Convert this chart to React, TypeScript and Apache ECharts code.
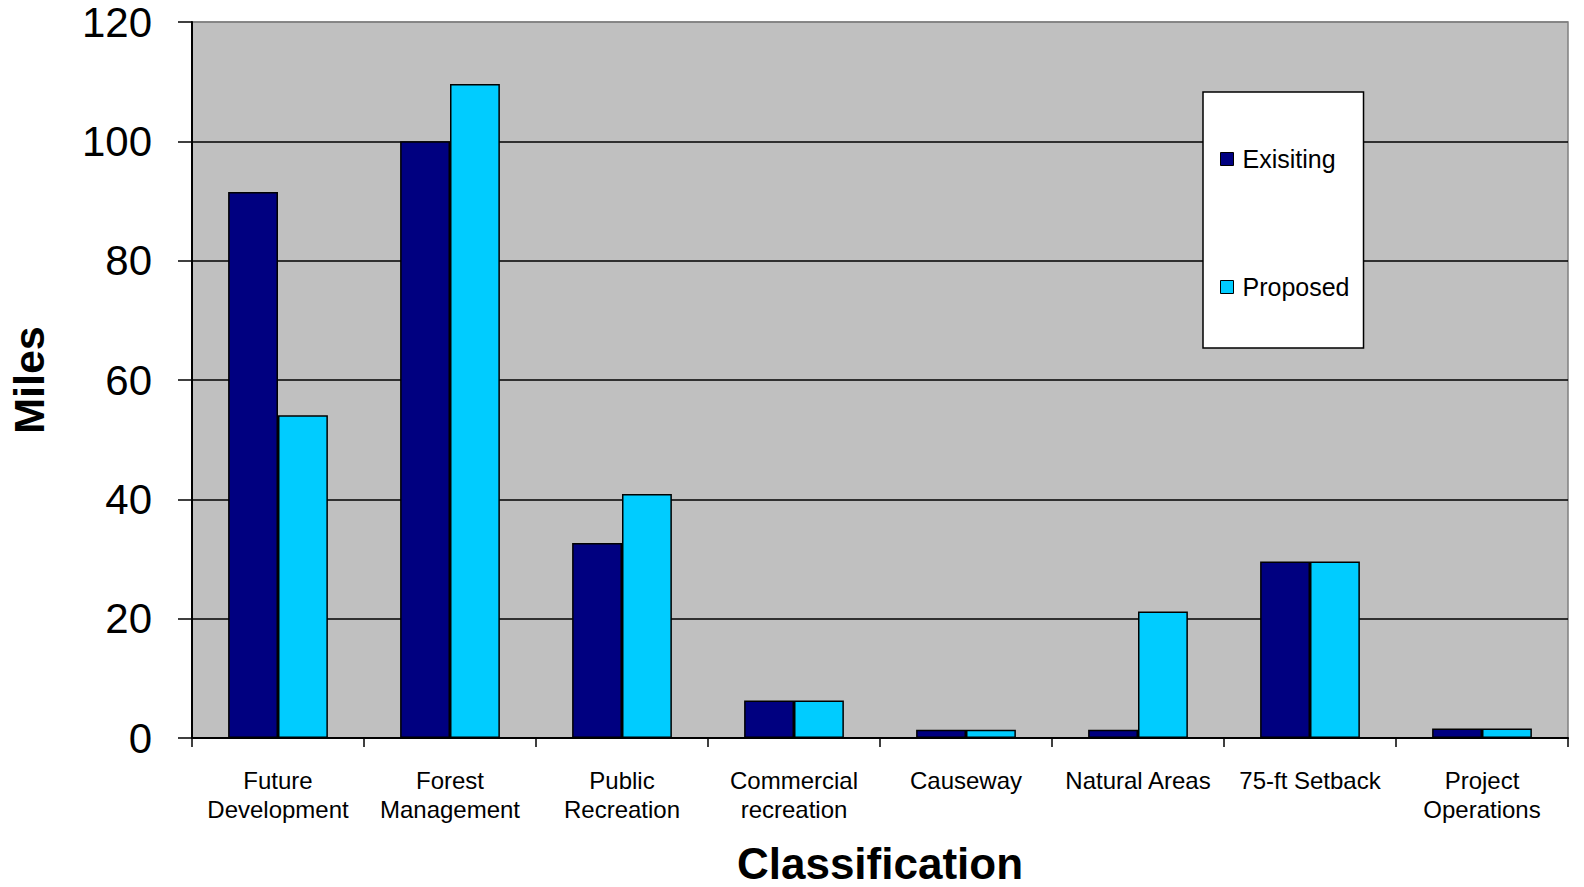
import React, { useEffect, useRef } from "react";
import * as echarts from "echarts";

const categories = [
  "Future\nDevelopment",
  "Forest\nManagement",
  "Public\nRecreation",
  "Commercial\nrecreation",
  "Causeway",
  "Natural Areas",
  "75-ft Setback",
  "Project\nOperations",
];
const existing = [91.5, 100, 32.7, 6.3, 1.4, 1.4, 29.6, 1.6];
const proposed = [54.1, 109.6, 40.9, 6.3, 1.4, 21.2, 29.6, 1.6];
const yTicks = [0, 20, 40, 60, 80, 100, 120];

const FONT = "'Liberation Sans', Arial, sans-serif";

export default function App() {
  const ref = useRef<HTMLDivElement>(null);
  useEffect(() => {
    if (!ref.current) return;
    const chart = echarts.init(ref.current, undefined, { renderer: "svg" });
    chart.setOption({
      animation: false,
      backgroundColor: "#ffffff",
      textStyle: { fontFamily: FONT },
      grid: {
        left: 192,
        top: 22,
        width: 1376,
        height: 716,
        containLabel: false,
        outerBoundsMode: "none",
        show: true,
        backgroundColor: "#C0C0C0",
        borderColor: "#808080",
        borderWidth: 1.5,
      },
      legend: {
        orient: "vertical",
        left: 1203,
        top: 92,
        padding: [54, 14, 48, 17],
        itemGap: 102,
        itemWidth: 13,
        itemHeight: 13,
        icon: "rect",
        backgroundColor: "#ffffff",
        borderColor: "#000000",
        borderWidth: 1.5,
        textStyle: { fontSize: 25, color: "#000", fontFamily: FONT, lineHeight: 26, padding: [0, 0, 0, 4] },
        itemStyle: { borderColor: "#000", borderWidth: 1 },
        data: ["Exisiting", "Proposed"],
      },
      xAxis: {
        type: "category",
        data: categories,
        name: "Classification",
        nameLocation: "middle",
        nameGap: 106,
        nameTextStyle: { fontSize: 44, lineHeight: 38, fontWeight: "bold", color: "#000", fontFamily: FONT },
        axisLine: { show: true, lineStyle: { color: "#000", width: 2 } },
        axisTick: { show: true, length: 9, lineStyle: { color: "#000", width: 1.5 } },
        axisLabel: {
          fontSize: 24,
          color: "#000",
          margin: 28,
          lineHeight: 29,
          fontFamily: FONT,
          interval: 0,
        },
      },
      yAxis: {
        type: "value",
        min: 0,
        max: 120,
        interval: 20,
        name: "Miles",
        nameLocation: "middle",
        nameGap: 142,
        nameRotate: 90,
        nameTextStyle: { fontSize: 43, fontWeight: "bold", color: "#000", fontFamily: FONT },
        axisLine: { show: true, lineStyle: { color: "#000", width: 2 } },
        axisTick: { show: true, length: 14, lineStyle: { color: "#000", width: 1.5 } },
        axisLabel: {
          fontSize: 42,
          lineHeight: 40,
          color: "#000",
          margin: 40,
          fontFamily: FONT,
          formatter: (v: number) => (yTicks.includes(v) ? String(v) : ""),
        },
        splitLine: {
          show: true,
          lineStyle: {
            color: ["#000", "#000", "#000", "#000", "#000", "#000", "#808080"],
            width: 1.5,
          },
        },
      },
      series: [
        {
          name: "Exisiting",
          type: "bar",
          data: existing,
          barGap: "0%",
          barCategoryGap: "42%",
          itemStyle: { color: "#000080", borderColor: "#000", borderWidth: 1.5 },
        },
        {
          name: "Proposed",
          type: "bar",
          data: proposed,
          barGap: "0%",
          barCategoryGap: "42%",
          itemStyle: { color: "#00CCFF", borderColor: "#000", borderWidth: 1.5 },
        },
      ],
    });
    return () => chart.dispose();
  }, []);
  return (
    <div
      ref={ref}
      style={{ position: "fixed", left: 0, top: 0, width: 1584, height: 887 }}
    />
  );
}
